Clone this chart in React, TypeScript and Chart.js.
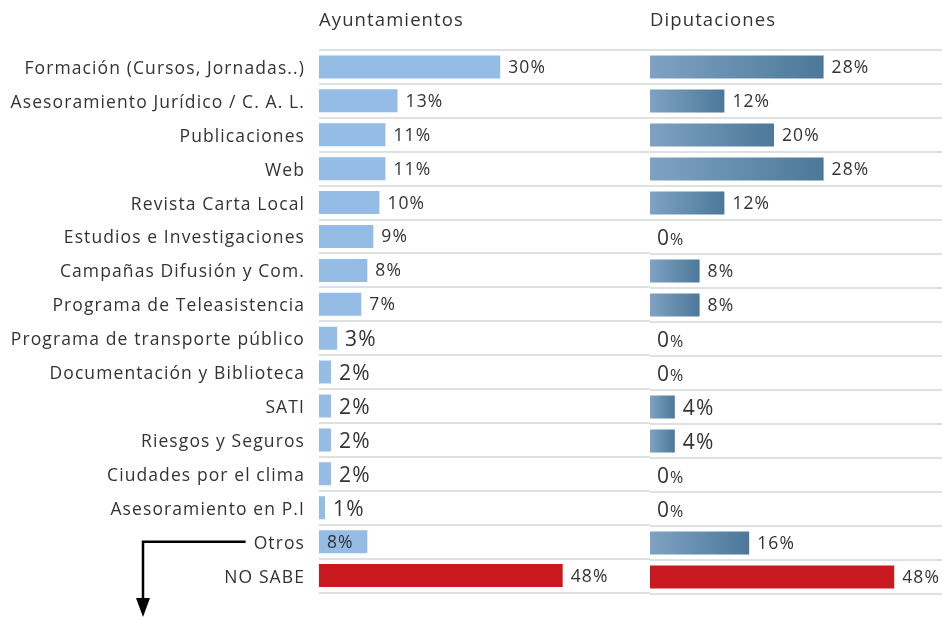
import React, { useEffect, useRef } from "react";
import { Chart, registerables } from "chart.js";

Chart.register(...registerables);

// ---------- data ----------
const categories = [
  "Formación (Cursos, Jornadas..)",
  "Asesoramiento Jurídico / C. A. L.",
  "Publicaciones",
  "Web",
  "Revista Carta Local",
  "Estudios e Investigaciones",
  "Campañas Difusión y Com.",
  "Programa de Teleasistencia",
  "Programa de transporte público",
  "Documentación y Biblioteca",
  "SATI",
  "Riesgos y Seguros",
  "Ciudades por el clima",
  "Asesoramiento en P.I",
  "Otros",
  "NO SABE",
];
const ayuntamientos = [30, 13, 11, 11, 10, 9, 8, 7, 3, 2, 2, 2, 2, 1, 8];
const diputaciones = [28, 12, 20, 28, 12, 0, 8, 8, 0, 0, 4, 4, 0, 0, 16];
const noSabeAyuntamientos = 48;
const noSabeDiputaciones = 48;
const panelTitles = ["Ayuntamientos", "Diputaciones"];
const NO_SABE = "NO SABE";
const OTROS = "Otros";

// ---------- style ----------
const FONT = "'Open Sans', Roboto, sans-serif";
const TEXT = "#333333";
const GRID = "#DDE1E1";
const AYTO_COLOR = "#95BCE4";
const DIPU_LEFT = "#7FA2C2";
const DIPU_RIGHT = "#4C7899";
const RED = "#C8191F";
const LABEL_SIZE = 17.5;
const VALUE_SIZE = 17.5;
const VALUE_SIZE_BIG = 21;
const TITLE_SIZE = 18.5;
const LETTER_SPACING = "1.1px";

function mainSeries(values: number[]) {
  return categories.map((c, i) => (c === NO_SABE ? null : values[i]));
}
function noSabeSeries(v: number) {
  return categories.map((c) => (c === NO_SABE ? v : null));
}

const spacingPlugin = {
  id: "letterSpacing",
  beforeUpdate(chart: any) {
    (chart.ctx as any).letterSpacing = LETTER_SPACING;
  },
  beforeDraw(chart: any) {
    (chart.ctx as any).letterSpacing = LETTER_SPACING;
  },
};

const labelsPlugin = {
  id: "panelLabels",
  afterDatasetsDraw(chart: any, _args: any, opts: any) {
    const ctx = chart.ctx as CanvasRenderingContext2D;
    const area = chart.chartArea;
    ctx.save();
    (ctx as any).letterSpacing = LETTER_SPACING;
    ctx.fillStyle = TEXT;
    ctx.textBaseline = "middle";
    ctx.textAlign = "left";
    ctx.font = `400 ${TITLE_SIZE}px ${FONT}`;
    ctx.fillText(opts.title, area.left, 21);

    chart.data.datasets.forEach((ds: any, di: number) => {
      const meta = chart.getDatasetMeta(di);
      meta.data.forEach((el: any, i: number) => {
        const v = ds.data[i];
        if (v == null) return;
        const y = el.y + 1;
        ctx.fillStyle = TEXT;
        if (v === 0) {
          const x = el.base + 7;
          ctx.font = `400 ${VALUE_SIZE_BIG}px ${FONT}`;
          ctx.fillText("0", x, y + 1);
          const w = ctx.measureText("0").width;
          ctx.font = `400 16px ${FONT}`;
          ctx.fillText("%", x + w, y + 2);
          return;
        }
        const inside = opts.insideCategory && categories[i] === opts.insideCategory;
        const size = v <= 4 ? VALUE_SIZE_BIG : VALUE_SIZE;
        ctx.font = `400 ${size}px ${FONT}`;
        const x = inside ? el.base + 8 : el.x + 8;
        ctx.fillText(v + "%", x, size > VALUE_SIZE ? y + 1 : y);
      });
    });

    if (opts.arrow) {
      const ys = chart.scales.y;
      const idx = categories.indexOf(OTROS);
      const yy = ys.getPixelForValue(idx);
      ctx.font = `400 ${LABEL_SIZE}px ${FONT}`;
      const w = ctx.measureText(OTROS).width;
      const xStart = area.left - 14 - w - 8;
      const xArrow = 143;
      const bottom = chart.height;
      ctx.strokeStyle = "#000";
      ctx.fillStyle = "#000";
      ctx.lineWidth = 2.5;
      ctx.beginPath();
      ctx.moveTo(xStart, yy);
      ctx.lineTo(xArrow, yy);
      ctx.lineTo(xArrow, bottom - 16);
      ctx.stroke();
      ctx.beginPath();
      ctx.moveTo(xArrow - 7, bottom - 19);
      ctx.lineTo(xArrow + 7, bottom - 19);
      ctx.lineTo(xArrow, bottom);
      ctx.closePath();
      ctx.fill();
    }
    ctx.restore();
  },
};

function solid(color: string) {
  return (c: any) => (c.raw === 0 ? "rgba(0,0,0,0)" : color);
}

function dipuGradient(c: any) {
  const chart = c.chart;
  const v = c.raw;
  if (v === 0) return "rgba(0,0,0,0)";
  if (!chart.chartArea || v == null) return DIPU_LEFT;
  const xs = chart.scales.x;
  const x0 = xs.getPixelForValue(0);
  const x1 = xs.getPixelForValue(v);
  if (x1 - x0 < 1) return DIPU_LEFT;
  const g = chart.ctx.createLinearGradient(x0, 0, x1, 0);
  g.addColorStop(0, DIPU_LEFT);
  g.addColorStop(1, DIPU_RIGHT);
  return g;
}

function makeConfig(p: {
  values: number[];
  noSabe: number;
  title: string;
  showLabels: boolean;
  max: number;
  max2: number;
  color: any;
  arrow: boolean;
  insideCategory: string | null;
}): any {
  return {
    type: "bar",
    data: {
      labels: categories,
      datasets: [
        {
          data: mainSeries(p.values),
          backgroundColor: p.color,
          xAxisID: "x",
          grouped: false,
          barThickness: 23,
          inflateAmount: 0,
        },
        {
          data: noSabeSeries(p.noSabe),
          backgroundColor: RED,
          xAxisID: "x2",
          grouped: false,
          barThickness: 23,
          inflateAmount: 0,
        },
      ],
    },
    options: {
      indexAxis: "y",
      responsive: false,
      animation: false,
      devicePixelRatio: 1,
      layout: { padding: { top: 50, bottom: 23, left: 0, right: 0 } },
      scales: {
        x: { display: false, min: 0, max: p.max },
        x2: { display: false, min: 0, max: p.max2 },
        y: {
          display: true,
          offset: true,
          border: { display: false },
          grid: { offset: true, color: GRID, lineWidth: 2, drawTicks: false },
          ticks: {
            display: p.showLabels,
            padding: 14,
            labelOffset: 2,
            color: TEXT,
            font: { family: FONT, size: LABEL_SIZE, weight: "400" },
          },
          afterFit: (s: any) => {
            s.width = p.showLabels ? 319 : 0;
          },
        },
      },
      plugins: {
        legend: { display: false },
        tooltip: { enabled: false },
        title: { display: false },
        panelLabels: {
          title: p.title,
          arrow: p.arrow,
          insideCategory: p.insideCategory,
        },
      },
    },
    plugins: [spacingPlugin, labelsPlugin],
  };
}

function Panel(props: { left: number; width: number; config: any }) {
  const ref = useRef<HTMLCanvasElement | null>(null);
  useEffect(() => {
    if (!ref.current) return;
    const chart = new Chart(ref.current, props.config);
    return () => chart.destroy();
  }, []);
  return (
    <canvas
      ref={ref}
      width={props.width}
      height={617}
      style={{ position: "absolute", left: props.left, top: 0, width: props.width, height: 617 }}
    />
  );
}

export default function App() {
  const cfgA = makeConfig({
    values: ayuntamientos,
    noSabe: noSabeAyuntamientos,
    title: panelTitles[0],
    showLabels: true,
    max: 54.8,
    max2: 65.2,
    color: solid(AYTO_COLOR),
    arrow: true,
    insideCategory: OTROS,
  });
  const cfgB = makeConfig({
    values: diputaciones,
    noSabe: noSabeDiputaciones,
    title: panelTitles[1],
    showLabels: false,
    max: 47.1,
    max2: 57.4,
    color: dipuGradient,
    arrow: false,
    insideCategory: null,
  });
  return (
    <div style={{ position: "absolute", left: 0, top: 0, width: 942, height: 617, background: "#fff" }}>
      <Panel left={0} width={650} config={cfgA} />
      <Panel left={650} width={292} config={cfgB} />
    </div>
  );
}
